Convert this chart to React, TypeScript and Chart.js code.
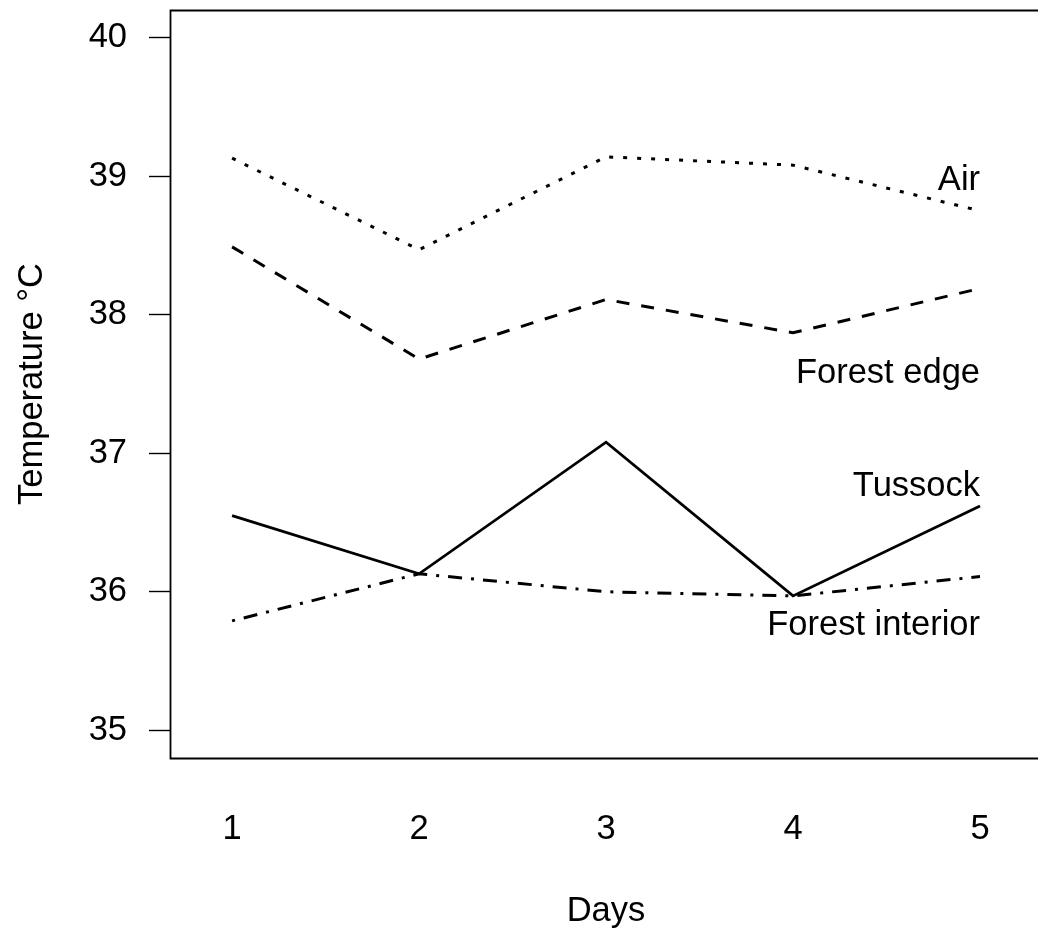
import { useEffect, useRef } from "react";
import { Chart, registerables } from "chart.js";

Chart.register(...registerables);

// Daily mean temperatures (°C) over five days at four sites
const days = [1, 2, 3, 4, 5];
const air = [39.13, 38.47, 39.14, 39.08, 38.75];
const forestEdge = [38.49, 37.68, 38.11, 37.87, 38.19];
const tussock = [36.55, 36.13, 37.08, 35.97, 36.62];
const forestInterior = [35.79, 36.13, 36.0, 35.97, 36.11];

const seriesNames = ["Air", "Forest edge", "Tussock", "Forest interior"];
// Temperature at which each site's name is written, right-aligned on day 5
const labelTemps = [38.99, 37.6, 36.78, 35.78];

const yTicks = [35, 36, 37, 38, 39, 40];
const xTitle = "Days";
const yTitle = "Temperature °C";

const FONT = '"Liberation Sans", Arial, Helvetica, sans-serif';
const FONT_SIZE = 34.5;

const toPoints = (vals: number[]) => days.map((d, i) => ({ x: d, y: vals[i] }));

// Frame (top, left, bottom), axis titles and the in-plot site names
const decorPlugin = {
  id: "decor",
  afterDraw(chart: any) {
    const { ctx, chartArea: a, scales } = chart;
    ctx.save();
    ctx.strokeStyle = "#000";
    ctx.lineWidth = 1.8;
    ctx.beginPath();
    ctx.moveTo(a.right + 20, a.top + 0.5);
    ctx.lineTo(a.left + 0.5, a.top + 0.5);
    ctx.lineTo(a.left + 0.5, a.bottom + 0.5);
    ctx.lineTo(a.right + 20, a.bottom + 0.5);
    ctx.stroke();

    ctx.fillStyle = "#000";
    ctx.font = `${FONT_SIZE}px ${FONT}`;
    ctx.textBaseline = "middle";

    // site names, vertically centred on their temperature
    ctx.textAlign = "right";
    const xs = scales.x.getPixelForValue(days[days.length - 1]);
    seriesNames.forEach((name, i) => {
      ctx.fillText(name, xs, scales.y.getPixelForValue(labelTemps[i]) + 3);
    });

    // x title
    ctx.textAlign = "center";
    ctx.fillText(xTitle, 606, 911);

    // y title
    ctx.translate(32, 384);
    ctx.rotate(-Math.PI / 2);
    ctx.fillText(yTitle, 0, 0);
    ctx.restore();
  },
};

export default function App() {
  const canvasRef = useRef<HTMLCanvasElement | null>(null);

  useEffect(() => {
    const canvas = canvasRef.current;
    if (!canvas) return;
    const base = { borderColor: "#000", borderWidth: 3, pointRadius: 0, fill: false, tension: 0, borderCapStyle: "butt" as const };
    const chart = new Chart(canvas, {
      type: "line",
      data: {
        datasets: [
          { ...base, label: seriesNames[0], data: toPoints(air), borderDash: [4, 10] },
          { ...base, label: seriesNames[1], data: toPoints(forestEdge), borderDash: [13, 12] },
          { ...base, label: seriesNames[2], data: toPoints(tussock), borderWidth: 2.8 },
          { ...base, label: seriesNames[3], data: toPoints(forestInterior), borderDash: [3, 9, 14, 9] },
        ],
      },
      options: {
        animation: false,
        responsive: false,
        devicePixelRatio: 1,
        layout: { padding: { top: 10, left: 0, right: 0, bottom: 0 } },
        plugins: { legend: { display: false }, tooltip: { enabled: false } },
        scales: {
          x: {
            type: "linear",
            min: 0.668,
            max: 5.31,
            afterBuildTicks: (scale: any) => {
              scale.ticks = days.map((v) => ({ value: v }));
            },
            afterFit: (scale: any) => {
              scale.height = 177;
              scale.paddingLeft = 0;
              scale.paddingRight = 0;
            },
            grid: { display: false, drawTicks: false },
            border: { display: false },
            ticks: {
              padding: 51,
              color: "#000",
              font: { family: FONT, size: FONT_SIZE },
              maxRotation: 0,
              autoSkip: false,
              callback: (v: any) => String(v),
            },
          },
          y: {
            type: "linear",
            min: 34.8,
            max: 40.2,
            afterBuildTicks: (scale: any) => {
              scale.ticks = yTicks.map((v) => ({ value: v }));
            },
            afterFit: (scale: any) => {
              scale.width = 170;
              scale.paddingTop = 0;
              scale.paddingBottom = 0;
            },
            grid: { display: true, drawOnChartArea: false, drawTicks: true, tickLength: 21, tickColor: "#000", tickWidth: 1.4 },
            border: { display: false },
            ticks: {
              padding: 22,
              color: "#000",
              font: { family: FONT, size: FONT_SIZE },
              autoSkip: false,
              callback: (v: any) => String(v),
            },
          },
        },
      },
      plugins: [decorPlugin],
    });
    return () => chart.destroy();
  }, []);

  return (
    <div style={{ position: "absolute", left: 0, top: 0, width: 1038, height: 935, background: "#fff" }}>
      <canvas ref={canvasRef} width={1038} height={935} style={{ display: "block" }} />
    </div>
  );
}
